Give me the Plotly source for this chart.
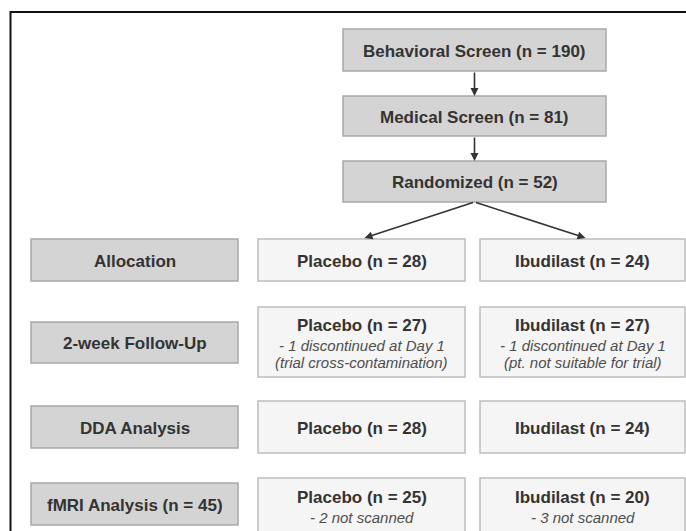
import plotly.graph_objects as go

# ---------------- data ----------------
screen_labels = ["Behavioral Screen", "Medical Screen", "Randomized"]
screen_n = [190, 81, 52]

phase_labels = ["Allocation", "2-week Follow-Up", "DDA Analysis", "fMRI Analysis"]
phase_n = [None, None, None, 45]

group_labels = ["Placebo", "Ibudilast"]
placebo_n = [28, 27, 28, 25]
ibudilast_n = [24, 27, 24, 20]
placebo_notes = [[], ["- 1 discontinued at Day 1", "(trial cross-contamination)"], [], ["- 2 not scanned"]]
ibudilast_notes = [[], ["- 1 discontinued at Day 1", "(pt. not suitable for trial)"], [], ["- 3 not scanned"]]

# ---------------- layout (pixel geometry) ----------------
W, H = 686, 531
FONT = "Liberation Sans, Arial, sans-serif"
top_x = (343, 606)
top_rows = [(29, 71), (96, 136), (161, 202)]
left_x = (31, 238)
left_rows = [(239, 281), (322, 363), (406, 448), (483, 525)]
group_x = [(258, 465), (480, 685)]
group_rows = [(239, 281), (307, 377), (401, 453), (478, 536)]

GRAY_FILL, GRAY_LINE = "#d4d4d4", "#a8a8a8"
LIGHT_FILL, LIGHT_LINE = "#f5f5f5", "#bdbdbd"
TXT = "#333333"
NOTE = "#4d4d4d"

def n_text(label, n):
    return f"{label} (n = {n})" if n is not None else label

fig = go.Figure()
fig.add_trace(go.Scatter(x=[0], y=[0], mode="markers", marker=dict(opacity=0), hoverinfo="skip", showlegend=False))

shapes, annos = [], []

def box(x, y, fill, line):
    shapes.append(dict(type="rect", xref="x", yref="y", x0=x[0], x1=x[1], y0=y[0], y1=y[1],
                       fillcolor=fill, line=dict(color=line, width=1.5), layer="below"))

def text(xc, yc, s, size=17, color=TXT, bold=True, italic=False):
    if bold:
        s = f"<b>{s}</b>"
    if italic:
        s = f"<i>{s}</i>"
    annos.append(dict(x=xc, y=yc, xref="x", yref="y", text=s, showarrow=False,
                      font=dict(family=FONT, size=size, color=color),
                      xanchor="center", yanchor="middle"))

# frame
shapes.append(dict(type="rect", xref="x", yref="y", x0=10.5, x1=760, y0=12, y1=600,
                   line=dict(color="#111111", width=2), fillcolor="rgba(0,0,0,0)"))

# screening boxes
cx_top = (top_x[0] + top_x[1]) / 2
for (y0, y1), lab, n in zip(top_rows, screen_labels, screen_n):
    box(top_x, (y0, y1), GRAY_FILL, GRAY_LINE)
    text(cx_top, (y0 + y1) / 2 + 1, n_text(lab, n))

# vertical arrows
for i in range(len(top_rows) - 1):
    annos.append(dict(x=cx_top, y=top_rows[i + 1][0], ax=cx_top, ay=top_rows[i][1],
                      xref="x", yref="y", axref="x", ayref="y", text="", showarrow=True,
                      arrowhead=2, arrowsize=1, arrowwidth=1.6, arrowcolor="#333333", standoff=0))

# diagonal arrows to groups
for gx in group_x:
    gc = (gx[0] + gx[1]) / 2 + 3
    annos.append(dict(x=gc, y=group_rows[0][0] - 1, ax=cx_top, ay=top_rows[-1][1],
                      xref="x", yref="y", axref="x", ayref="y", text="", showarrow=True,
                      arrowhead=2, arrowsize=1, arrowwidth=1.6, arrowcolor="#333333", standoff=0))

# phase boxes
cx_left = (left_x[0] + left_x[1]) / 2
for (y0, y1), lab, n in zip(left_rows, phase_labels, phase_n):
    box(left_x, (y0, y1), GRAY_FILL, GRAY_LINE)
    text(cx_left, (y0 + y1) / 2 + 1, n_text(lab, n))

# group boxes
for gx, gname, counts, notes in zip(group_x, group_labels, [placebo_n, ibudilast_n],
                                    [placebo_notes, ibudilast_notes]):
    gc = (gx[0] + gx[1]) / 2
    for (y0, y1), n, nl in zip(group_rows, counts, notes):
        box(gx, (y0, y1), LIGHT_FILL, LIGHT_LINE)
        if not nl:
            text(gc, (y0 + y1) / 2 + 1, n_text(gname, n))
        else:
            lines = 1 + len(nl)
            y_start = y0 + 18 if lines == 3 else y0 + 19
            text(gc, y_start, n_text(gname, n))
            for k, note in enumerate(nl):
                text(gc, y_start + 20 + 17.5 * k, note, size=15, color=NOTE, bold=False, italic=True)

fig.update_layout(
    width=W, height=H, margin=dict(l=0, r=0, t=0, b=0),
    paper_bgcolor="white", plot_bgcolor="white",
    xaxis=dict(range=[0, W], visible=False, fixedrange=True),
    yaxis=dict(range=[H, 0], visible=False, fixedrange=True),
    shapes=shapes, annotations=annos, showlegend=False,
)

fig.write_html("out.html", config={"displayModeBar": False},
               post_script="document.body.style.margin='0';document.body.style.overflow='hidden';")
